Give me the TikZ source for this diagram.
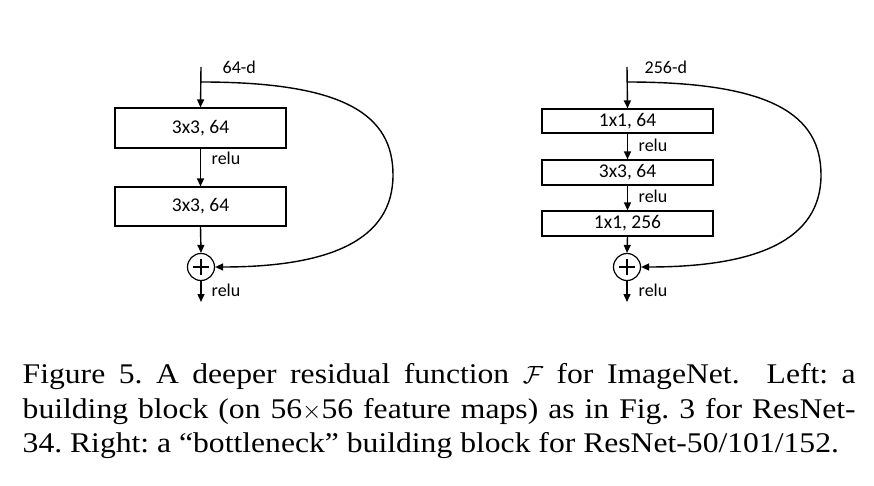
\documentclass[tikz,border=0pt]{standalone}
\usepackage{fontspec}
\setmainfont[FakeStretch=1.11]{Liberation Serif}
\newfontfamily\diagfont{Carlito}
\usetikzlibrary{arrows.meta}
\begin{document}
\begin{tikzpicture}[x=1pt,y=-1pt,
  line width=1.4pt,
  arr/.style={-{Triangle[length=8pt,width=7pt]}},
  blk/.style={draw,line width=1.2pt,minimum width=171pt,inner sep=0pt,font=\diagfont\fontsize{19.5}{21}\selectfont},
  lbl/.style={inner sep=0pt,anchor=west,font=\diagfont\fontsize{18}{19}\selectfont},
  addc/.style={draw,circle,line width=1.2pt,minimum size=27pt,inner sep=0pt}]
\useasboundingbox (0,0) rectangle (874,486);
% ---------- left block ----------
\coordinate (Ltop) at (201,67);
\coordinate (Lj) at (201,82);
\node[blk,minimum height=40pt] (L1) at (200.5,128) {3x3, 64};
\node[blk,minimum height=39pt] (L2) at (200.5,206.5) {3x3, 64};
\node[addc] (Lp) at (201,267) {};
\coordinate (Lout) at (201,302);
\node[lbl] (Ld) at (222,67) {64-d};
\node[lbl] (Lr1) at (211,158) {relu};
\node[lbl] (Lr2) at (211,290) {relu};
\draw[arr] (Ltop) -- (L1.north);
\draw[arr] (L1.south) -- (L2.north);
\draw[arr] (L2.south) -- (Lp.north);
\draw[arr] (Lp.south) -- (Lout);
\draw[arr] (Lj) .. controls (345,82) and (393,115) .. (393,175)
  .. controls (393,240) and (330,267) .. (Lp.east);
\draw[line width=1.2pt] (Lp) ++(-8,0) -- ++(16,0);
\draw[line width=1.2pt] (Lp) ++(0,-8) -- ++(0,16);
% ---------- right block ----------
\coordinate (Rtop) at (627,67);
\coordinate (Rj) at (627,82);
\node[blk,minimum height=24pt] (R1) at (627.5,121) {1x1, 64};
\node[blk,minimum height=25pt] (R2) at (627.5,172.5) {3x3, 64};
\node[blk,minimum height=25pt] (R3) at (627.5,223.5) {1x1, 256};
\node[addc] (Rp) at (627,267) {};
\coordinate (Rout) at (627,302);
\node[lbl] (Rd) at (644,67) {256-d};
\node[lbl] (Rr1) at (638,145) {relu};
\node[lbl] (Rr2) at (638,196) {relu};
\node[lbl] (Rr3) at (638,290) {relu};
\draw[arr] (Rtop) -- (R1.north);
\draw[arr] (R1.south) -- (R2.north);
\draw[arr] (R2.south) -- (R3.north);
\draw[arr] (R3.south) -- (Rp.north);
\draw[arr] (Rp.south) -- (Rout);
\draw[arr] (Rj) .. controls (772,82) and (821,115) .. (821,175)
  .. controls (821,240) and (757,267) .. (Rp.east);
\draw[line width=1.2pt] (Rp) ++(-8,0) -- ++(16,0);
\draw[line width=1.2pt] (Rp) ++(0,-8) -- ++(0,16);
% ---------- caption ----------
\node[anchor=north west,inner sep=0pt,text width=833pt,align=justify,
  font=\fontsize{28.5}{34.5}\selectfont\frenchspacing] (cap) at (22,363)
  {Figure 5. A deeper residual function $\mathcal{F}$ for ImageNet.\ \ Left: a\linebreak building block (on 56$\times$56 feature maps) as in Fig.~3 for ResNet-\linebreak 34. Right: a ``bottleneck'' building block for ResNet-50/101/152.};
\end{tikzpicture}
\end{document}
